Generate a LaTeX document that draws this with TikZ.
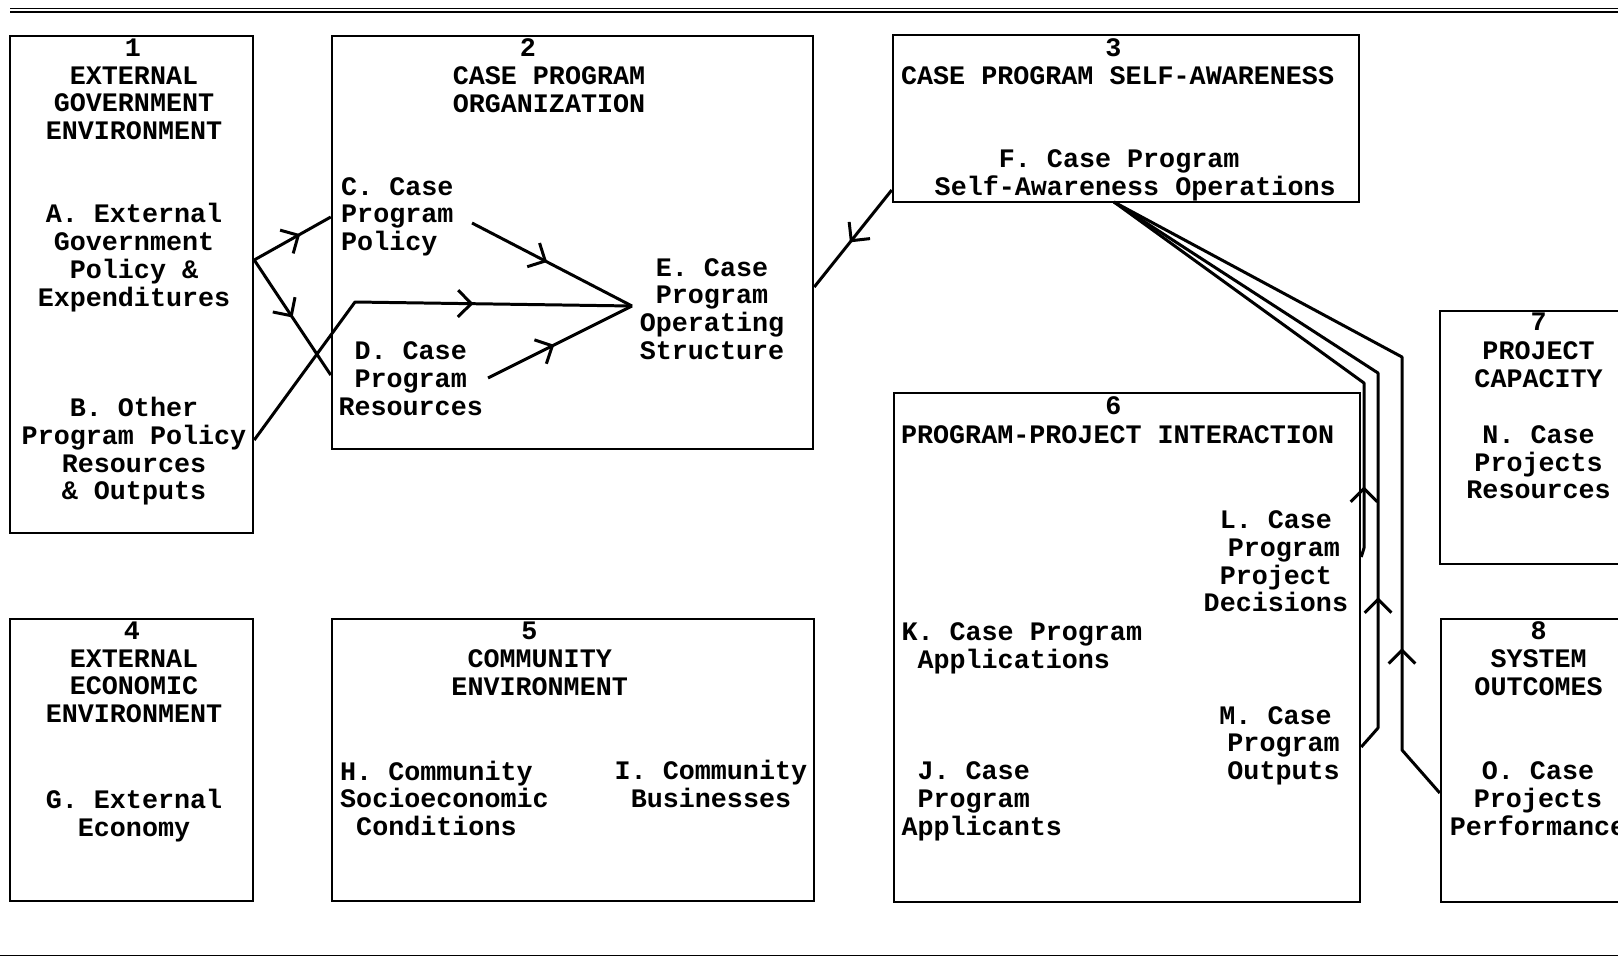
\documentclass[tikz,border=0pt]{standalone}
\usepackage{fontspec}
\setmainfont{Liberation Mono}
\usepackage{tikz}
\usetikzlibrary{positioning, fit, arrows.meta, decorations.markings}
\newcommand{\colskip}[1]{\hspace*{#1\fontcharwd\font`M}}
\tikzset{
    frame/.style={draw, line width=0.7pt, inner sep=0pt},
    txt/.style={inner sep=0pt, align=center, font=\bfseries\fontsize{7.6}{7.9}\selectfont},
    txtl/.style={txt, align=left, anchor=west},
    flow/.style={line width=0.85pt, line join=round},
    barb/.tip={Straight Barb[length=3.8pt,width=7.6pt]},
    midarr/.style={postaction={decorate},
        decoration={markings, mark=at position #1 with {\arrow{barb}}}}
}

\begin{document}
\begin{tikzpicture}[x=0.01cm, y=-0.01cm]
    \useasboundingbox (0,0) rectangle (1618,957);
    \clip (0,0) rectangle (1618,957);
    % rules
    \draw[line width=0.5pt] (10,8.5) -- (1618,8.5);
    \draw[line width=0.7pt] (10,12) -- (1618,12);
    \draw[line width=0.5pt] (0,955.5) -- (1618,955.5);
    % boxes
    \node[frame, fit={(10,36) (253,533)}] (box1) {};
    \node[frame, fit={(332,36) (813,449)}] (box2) {};
    \node[frame, fit={(893,35) (1359,202)}] (box3) {};
    \node[frame, fit={(10,619) (253,901)}] (box4) {};
    \node[frame, fit={(332,619) (814,901)}] (box5) {};
    \node[frame, fit={(894,393) (1360,902)}] (box6) {};
    \node[frame, fit={(1440,311) (1680,564)}] (box7) {};
    \node[frame, fit={(1441,619) (1680,902)}] (box8) {};
    % box 1
    \node[txt] (num1) at (133,47.5) {1};
    \node[txt] (head1) at (134,103.2) {EXTERNAL\\GOVERNMENT\\ENVIRONMENT};
    \node[txt] (itemA) at (134,257.7) {A. External\\Government\\Policy \&\\Expenditures};
    \node[txt] (itemB) at (134,451.2) {B. Other\\Program Policy\\Resources\\\& Outputs};
    % box 2
    \node[txt] (num2) at (528,47.5) {2};
    \node[txt] (head2) at (549,89.3) {CASE PROGRAM\\ORGANIZATION};
    \node[txtl] (itemC) at (340.5,216.7) {C. Case\\Program\\Policy};
    \node[txt] (itemD) at (410.7,378.7) {D. Case\\Program\\Resources};
    \node[txt] (itemE) at (712,309) {E. Case\\Program\\Operating\\Structure};
    % box 3
    \node[txt] (num3) at (1113.5,47.5) {3};
    \node[txt] (head3) at (1117.6,75.3) {CASE PROGRAM SELF-AWARENESS};
    \node[txtl] (itemF) at (934,175.6) {\colskip{4}F. Case Program\\Self-Awareness Operations};
    % box 4
    \node[txt] (num4) at (132,630.5) {4};
    \node[txt] (head4) at (134,686.2) {EXTERNAL\\ECONOMIC\\ENVIRONMENT};
    \node[txt] (itemG) at (134,815.4) {G. External\\Economy};
    % box 5
    \node[txt] (num5) at (529.4,630.5) {5};
    \node[txt] (head5) at (539.7,672.3) {COMMUNITY\\ENVIRONMENT};
    \node[txtl] (itemH) at (339.5,798.4) {H. Community\\Socioeconomic\\\colskip{1}Conditions};
    \node[txtl] (itemI) at (614,784.3) {I. Community\\\colskip{1}Businesses};
    % box 6
    \node[txt] (num6) at (1113.5,405.5) {6};
    \node[txt] (head6) at (1117.6,434.4) {PROGRAM-PROJECT INTERACTION};
    \node[txtl] (itemL) at (1203,561.4) {\colskip{1}L. Case\\\colskip{1.5}Program\\\colskip{1}Project\\Decisions};
    \node[txtl] (itemK) at (900.8,648.3) {K. Case Program\\\colskip{1}Applications};
    \node[txtl] (itemM) at (1218.7,745.8) {M. Case\\\colskip{0.5}Program\\\colskip{0.5}Outputs};
    \node[txtl] (itemJ) at (900.8,801.2) {\colskip{1}J. Case\\\colskip{1}Program\\Applicants};
    % box 7
    \node[txt] (num7) at (1538.6,322) {7};
    \node[txt] (head7) at (1538.6,364.8) {PROJECT\\CAPACITY};
    \node[txt] (itemN) at (1538.6,462.3) {N. Case\\Projects\\Resources};
    % box 8
    \node[txt] (num8) at (1538.6,630.5) {8};
    \node[txt] (head8) at (1538.6,672.3) {SYSTEM\\OUTCOMES};
    \node[txt] (itemO) at (1538,798.4) {O. Case\\Projects\\Performance};
    % ports
    \coordinate (aOut) at (box1.east |- 0,260);
    \coordinate (bOut) at (box1.east |- 0,440);
    \coordinate (cIn) at (box2.west |- 0,217);
    \coordinate (dIn) at (box2.west |- 0,375);
    \coordinate (cOut) at (472,223);
    \coordinate (dOut) at (488,378);
    \coordinate (eIn) at (632,306);
    \coordinate (eBox) at (box2.east |- 0,287);
    \coordinate (fSide) at (box3.west |- 0,190);
    \coordinate (fLow) at (1114,202);
    \coordinate (lOut) at (box6.east |- 0,557);
    \coordinate (mOut) at (box6.east |- 0,747);
    \coordinate (oOut) at (box8.west |- 0,793);
    % connectors
    \draw[flow, midarr=0.6] (aOut) -- (cIn);
    \draw[flow, midarr=0.5] (aOut) -- (dIn);
    \draw[flow, midarr=2.89cm] (bOut) -- (355,302) -- (eIn);
    \draw[flow, midarr=0.47] (cOut) -- (eIn);
    \draw[flow, midarr=0.46] (dOut) -- (eIn);
    \draw[flow, midarr=0.54] (fSide) -- (eBox);
    \draw[flow, midarr=0.71cm] (lOut) -- (1364,548) -- (1364,383) -- (fLow);
    \draw[flow, midarr=1.56cm] (mOut) -- (1378,728) -- (1378,373) -- (fLow);
    \draw[flow, midarr=1.59cm] (oOut) -- (1402,750) -- (1402,357) -- (fLow);
\end{tikzpicture}
\end{document}
